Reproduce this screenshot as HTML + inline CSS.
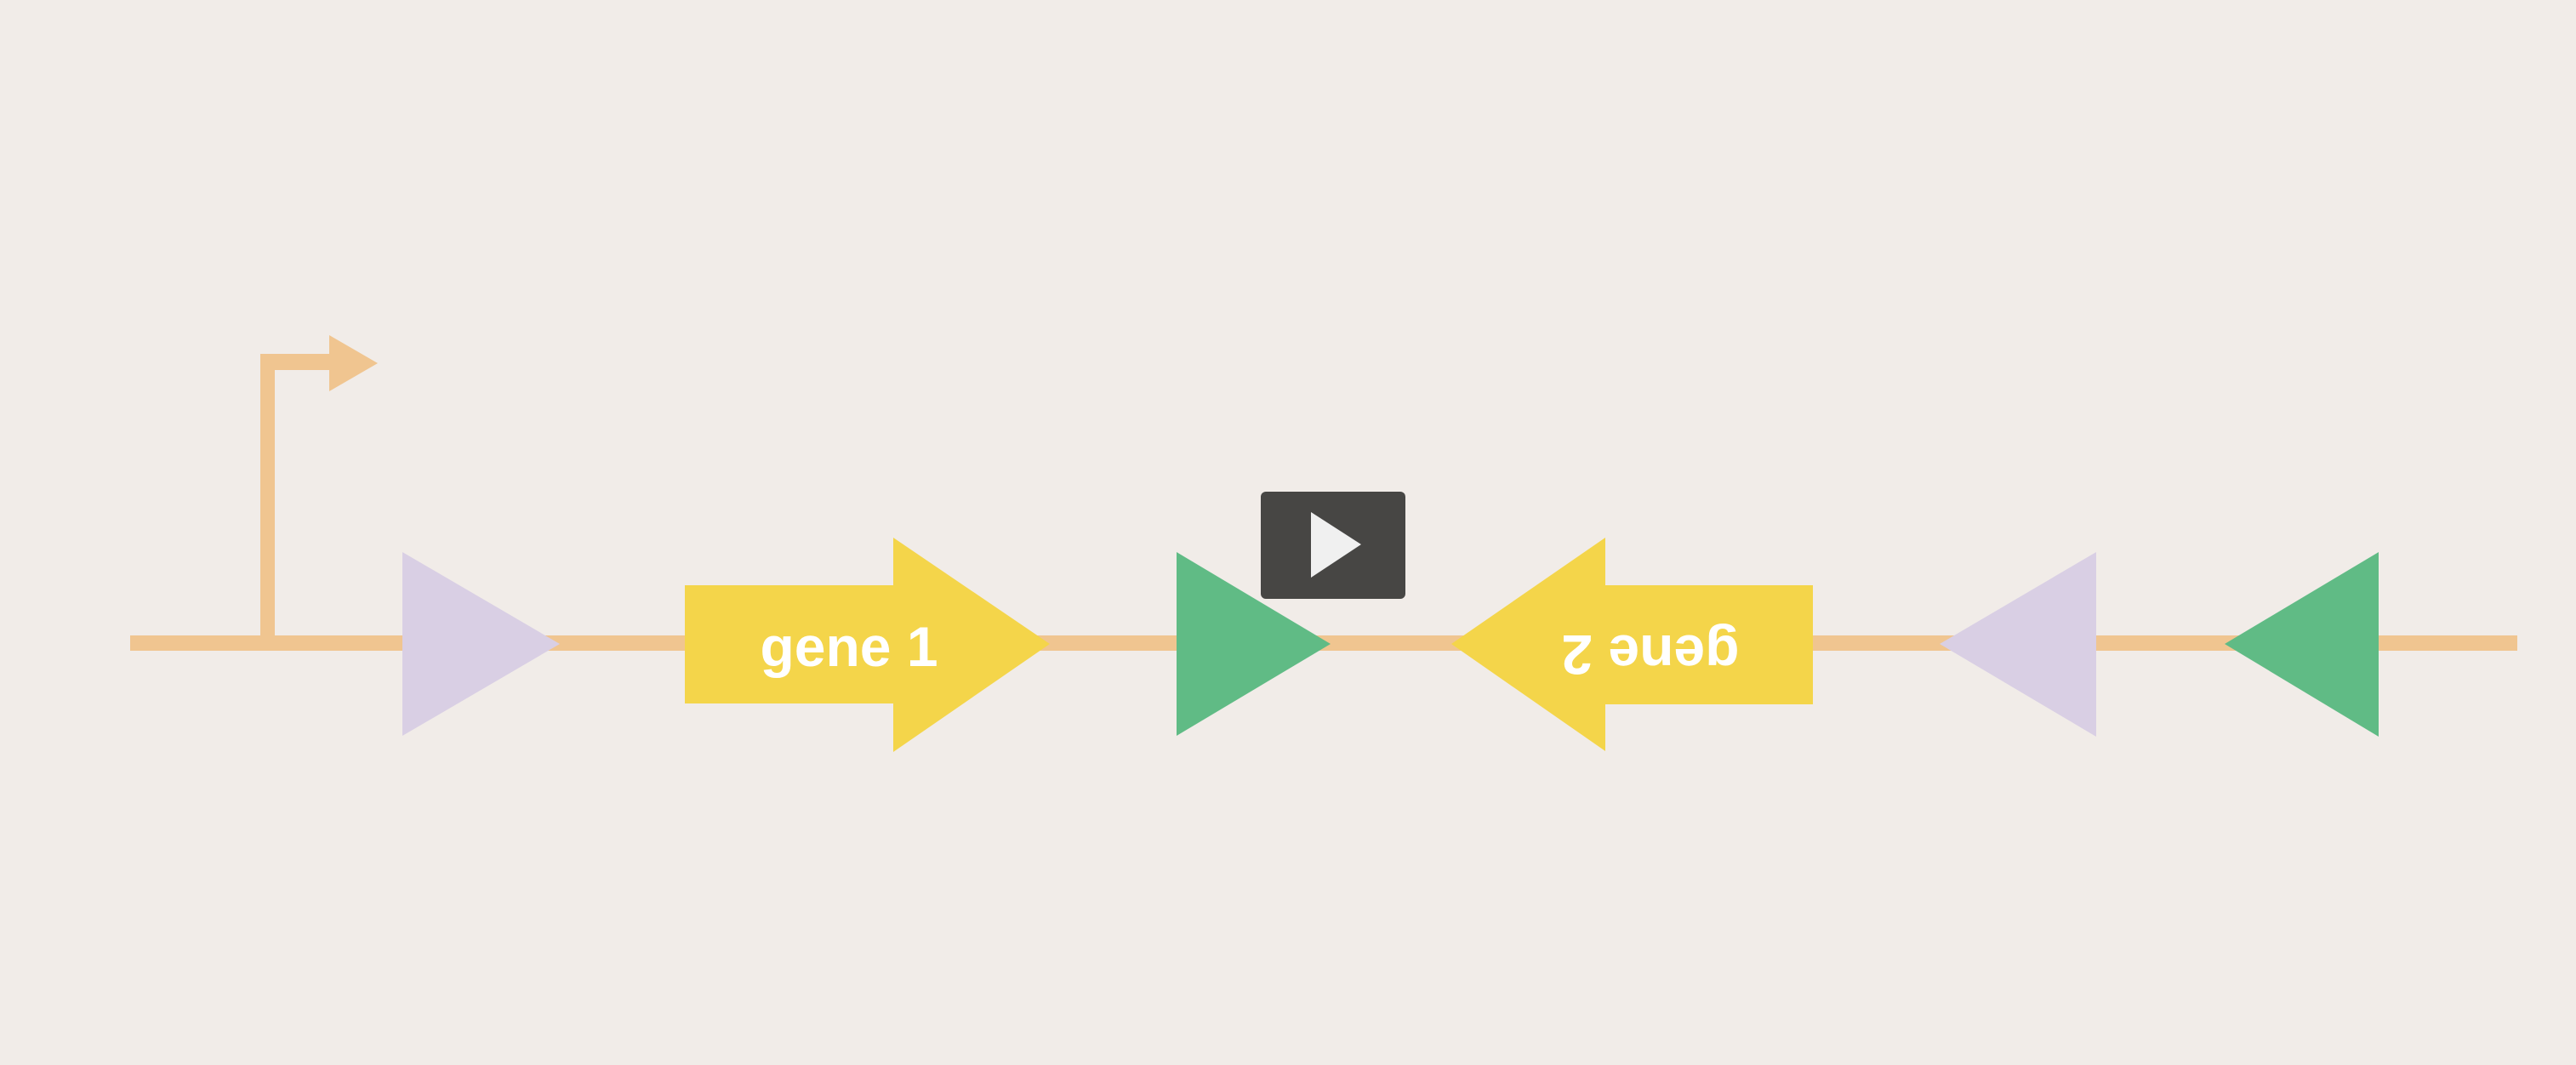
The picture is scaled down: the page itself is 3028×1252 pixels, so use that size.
<!DOCTYPE html>
<html><head><meta charset="utf-8"><style>
html,body{margin:0;padding:0;background:#f1ece8;}
svg{display:block;}
</style></head><body>
<svg width="3028" height="1252" viewBox="0 0 3028 1252" xmlns="http://www.w3.org/2000/svg">
<rect width="3028" height="1252" fill="#f1ece8"/>
<rect x="153" y="747" width="2806" height="18" fill="#f0c590"/>
<rect x="306" y="416" width="17" height="340" fill="#f0c590"/>
<rect x="306" y="416" width="84" height="19" fill="#f0c590"/>
<polygon points="387,394 444,427 387,460" fill="#f0c590"/>
<polygon points="473,649 658,757 473,865" fill="#d9cfe4"/>
<polygon points="805,688 1050,688 1050,632 1234,757 1050,884 1050,827 805,827" fill="#f4d54a"/>
<text x="998" y="783" text-anchor="middle" font-family="Liberation Sans, sans-serif" font-weight="bold" font-size="66" fill="#ffffff">gene 1</text>
<polygon points="1383,649 1564,757 1383,865" fill="#60bb85"/>
<rect x="1482" y="578" width="170" height="126" rx="6" fill="#474644"/>
<polygon points="1541,602 1600,640 1541,679" fill="#f0f0f0"/>
<polygon points="2131,688 1887,688 1887,632 1706,757 1887,883 1887,828 2131,828" fill="#f4d54a"/>
<text x="1940" y="783" text-anchor="middle" font-family="Liberation Sans, sans-serif" font-weight="bold" font-size="66" fill="#ffffff" transform="rotate(180 1940 765)">gene 2</text>
<polygon points="2464,649 2280,757 2464,866" fill="#d9cfe4"/>
<polygon points="2796,649 2615,757 2796,866" fill="#60bb85"/>
</svg>
</body></html>
